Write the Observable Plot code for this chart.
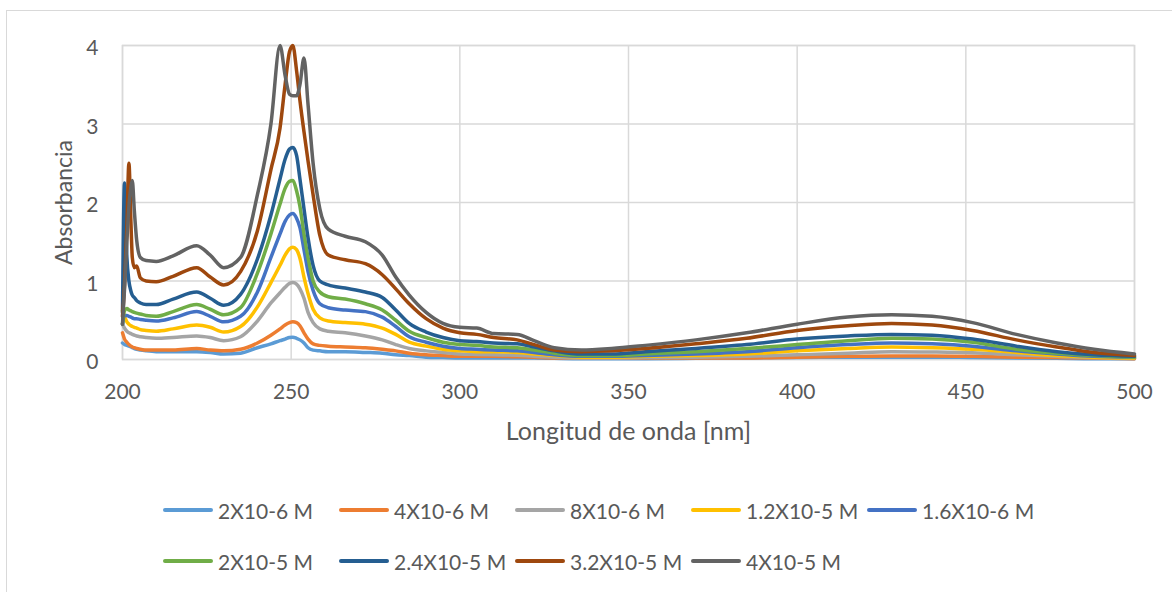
<!DOCTYPE html>
<html><head><meta charset="utf-8">
<script src="https://cdn.jsdelivr.net/npm/d3@7"></script>
<script src="https://cdn.jsdelivr.net/npm/@observablehq/plot@0.6"></script>
<style>
html,body{margin:0;padding:0;background:#fff;}
#wrap{position:relative;width:1172px;height:592px;overflow:hidden;background:#fff;font-family:Lato,sans-serif;color:#595959;}
#border{position:absolute;left:6px;top:10px;width:1200px;height:700px;border:1px solid #d9d9d9;box-sizing:border-box;}
#chart{position:relative;height:470px;}
#legend{position:relative;height:122px;}
.item{position:absolute;display:flex;align-items:center;height:30px;font-size:21px;white-space:nowrap;}
.sw{width:50px;height:4px;border-radius:2px;margin-right:5px;flex:none;}
</style></head><body>
<div id="wrap"><div id="border"></div><div id="chart"></div><div id="legend"></div></div>
<script>
const wavelengths = [200, 200.6, 201.3, 201.9, 202.5, 202.9, 203.5, 204.2, 205.3, 207, 210, 215, 222, 226, 230, 235, 240, 244, 246.7, 248.2, 249.5, 250.5, 251.6, 252.6, 253.8, 255, 256.5, 258.5, 261, 266, 272, 277, 281, 285, 290, 295, 300, 305, 310, 317, 322, 328, 336, 345, 355, 370, 385, 400, 415, 428, 440, 452, 465, 477, 488, 500];

const a2e6 = [0.21,0.19,0.18,0.17,0.16,0.15,0.14,0.13,0.12,0.11,0.10,0.10,0.10,0.09,0.07,0.08,0.15,0.20,0.24,0.26,0.28,0.285,0.27,0.25,0.21,0.15,0.12,0.11,0.10,0.10,0.09,0.08,0.06,0.05,0.03,0.025,0.02,0.02,0.02,0.02,0.02,0.015,0.01,0.01,0.01,0.015,0.02,0.025,0.03,0.03,0.03,0.025,0.02,0.015,0.01,0.01];
const a4e6 = [0.34,0.26,0.22,0.19,0.17,0.16,0.15,0.14,0.13,0.12,0.12,0.12,0.14,0.12,0.11,0.13,0.21,0.31,0.39,0.44,0.47,0.48,0.47,0.43,0.34,0.26,0.20,0.18,0.17,0.16,0.15,0.13,0.11,0.08,0.06,0.05,0.04,0.04,0.04,0.035,0.03,0.02,0.02,0.02,0.02,0.02,0.02,0.03,0.04,0.045,0.045,0.04,0.03,0.025,0.02,0.01];
const a8e6 = [0.45,0.40,0.36,0.34,0.33,0.32,0.31,0.30,0.29,0.28,0.27,0.28,0.30,0.28,0.24,0.29,0.49,0.72,0.85,0.92,0.97,0.98,0.96,0.90,0.78,0.60,0.47,0.39,0.36,0.34,0.30,0.25,0.19,0.14,0.11,0.09,0.07,0.065,0.06,0.055,0.04,0.03,0.02,0.02,0.025,0.03,0.04,0.06,0.08,0.10,0.095,0.085,0.06,0.04,0.025,0.02];
const a12e6 = [0.62,0.55,0.48,0.45,0.43,0.42,0.41,0.40,0.38,0.37,0.36,0.39,0.44,0.41,0.35,0.42,0.67,0.98,1.20,1.33,1.41,1.43,1.40,1.29,1.05,0.84,0.64,0.53,0.49,0.47,0.45,0.40,0.32,0.22,0.17,0.13,0.11,0.10,0.10,0.09,0.07,0.05,0.03,0.03,0.04,0.05,0.07,0.11,0.14,0.16,0.15,0.13,0.09,0.05,0.03,0.02];
const a16e6 = [0.45,0.56,0.56,0.55,0.54,0.53,0.52,0.52,0.51,0.50,0.49,0.53,0.61,0.55,0.48,0.55,0.86,1.30,1.60,1.76,1.84,1.86,1.80,1.68,1.40,1.12,0.88,0.71,0.66,0.63,0.61,0.54,0.42,0.29,0.22,0.17,0.14,0.13,0.12,0.11,0.09,0.06,0.04,0.04,0.05,0.07,0.10,0.15,0.19,0.21,0.20,0.17,0.11,0.07,0.04,0.03];
const a20e6 = [0.45,0.62,0.65,0.63,0.62,0.61,0.60,0.59,0.58,0.56,0.55,0.61,0.70,0.64,0.57,0.66,1.10,1.60,1.98,2.18,2.27,2.28,2.15,1.95,1.60,1.30,1.00,0.86,0.80,0.77,0.71,0.63,0.50,0.36,0.28,0.22,0.19,0.18,0.16,0.15,0.12,0.08,0.05,0.05,0.07,0.10,0.14,0.19,0.24,0.27,0.26,0.22,0.13,0.08,0.05,0.03];
const a24e6 = [0.60,2.25,1.30,1.00,0.87,0.82,0.79,0.75,0.72,0.70,0.70,0.77,0.86,0.78,0.69,0.83,1.28,1.84,2.30,2.55,2.68,2.70,2.60,2.30,1.92,1.55,1.20,1.00,0.95,0.91,0.86,0.79,0.63,0.46,0.35,0.28,0.24,0.23,0.21,0.20,0.16,0.11,0.07,0.07,0.10,0.14,0.19,0.26,0.30,0.32,0.31,0.26,0.17,0.10,0.06,0.04];
const a32e6 = [0.55,0.95,1.70,2.50,1.75,1.30,1.17,1.19,1.04,1.00,0.99,1.06,1.17,1.05,0.95,1.12,1.64,2.42,2.95,3.50,3.92,4.00,3.68,3.30,2.90,2.53,2.10,1.58,1.33,1.27,1.22,1.08,0.90,0.71,0.52,0.40,0.34,0.32,0.28,0.25,0.19,0.12,0.10,0.11,0.14,0.20,0.27,0.37,0.43,0.46,0.44,0.37,0.25,0.16,0.09,0.05];
const a40e6 = [0.45,0.90,1.50,1.95,2.20,2.28,1.90,1.52,1.30,1.26,1.25,1.32,1.45,1.33,1.17,1.30,2.10,3.00,4.00,3.62,3.38,3.36,3.36,3.50,3.84,3.25,2.50,1.92,1.66,1.57,1.50,1.33,1.05,0.82,0.60,0.46,0.41,0.40,0.33,0.32,0.24,0.15,0.12,0.14,0.18,0.25,0.34,0.45,0.54,0.57,0.55,0.47,0.32,0.21,0.13,0.07];

const seriesNames = ["2X10-6 M", "4X10-6 M", "8X10-6 M", "1.2X10-5 M", "1.6X10-6 M", "2X10-5 M", "2.4X10-5 M", "3.2X10-5 M", "4X10-5 M"];
const seriesColors = ["#5B9BD5", "#ED7D31", "#A5A5A5", "#FFC000", "#4472C4", "#70AD47", "#255E91", "#9E480E", "#636363"];
const xTicks = [200, 250, 300, 350, 400, 450, 500];
const yTicks = [0, 1, 2, 3, 4];
const xTitle = "Longitud de onda [nm]";
const yTitle = "Absorbancia";

const seriesValues = [a2e6, a4e6, a8e6, a12e6, a16e6, a20e6, a24e6, a32e6, a40e6];
const rows = seriesNames.flatMap((name, i) => wavelengths.map((w, j) => ({name, w, a: seriesValues[i][j]})));

const chart = Plot.plot({
  width: 1172, height: 470,
  marginLeft: 122, marginRight: 38, marginTop: 45, marginBottom: 111,
  style: {fontFamily: "Lato, sans-serif", fontSize: "21px", color: "#595959", background: "none", overflow: "visible"},
  x: {domain: [200, 500]},
  y: {domain: [0, 4]},
  color: {domain: seriesNames, range: seriesColors},
  marks: [
    Plot.gridX(xTicks, {stroke: "#d9d9d9", strokeOpacity: 1, strokeWidth: 1.5}),
    Plot.gridY(yTicks, {stroke: "#d9d9d9", strokeOpacity: 1, strokeWidth: 1.5}),
    Plot.frame({stroke: "#d9d9d9", strokeWidth: 1.5}),
    Plot.axisX(xTicks, {tickSize: 0, tickPadding: 25, tickFormat: d => String(d), label: null, fill: "#595959", fontSize: 21}),
    Plot.axisX([], {tickSize: 0, label: xTitle, labelAnchor: "center", labelArrow: "none", labelOffset: 80, fill: "#595959", fontSize: 25}),
    Plot.axisY(yTicks, {tickSize: 0, tickPadding: 24, dy: 3, tickFormat: d => String(d), label: null, fill: "#595959", fontSize: 21}),
    Plot.axisY([], {tickSize: 0, label: yTitle, labelAnchor: "center", labelArrow: "none", labelOffset: 67, fill: "#595959", fontSize: 23}),
    Plot.line(rows, {x: "w", y: "a", z: "name", stroke: "name", strokeWidth: 3.5, curve: "monotone-x", strokeLinejoin: "round", strokeLinecap: "round"})
  ]
});
document.getElementById("chart").appendChild(chart);

const legend = document.getElementById("legend");
const rowCenters = [40, 91];
seriesNames.forEach((name, i) => {
  const r = i < 5 ? 0 : 1;
  const c = i < 5 ? i : i - 5;
  const it = document.createElement("div");
  it.className = "item";
  it.style.left = (163 + c * 176) + "px";
  it.style.top = (rowCenters[r] - 15) + "px";
  const sw = document.createElement("span");
  sw.className = "sw";
  sw.style.background = seriesColors[i];
  const tx = document.createElement("span");
  tx.textContent = name;
  it.appendChild(sw); it.appendChild(tx);
  legend.appendChild(it);
});
</script>
</body></html>
